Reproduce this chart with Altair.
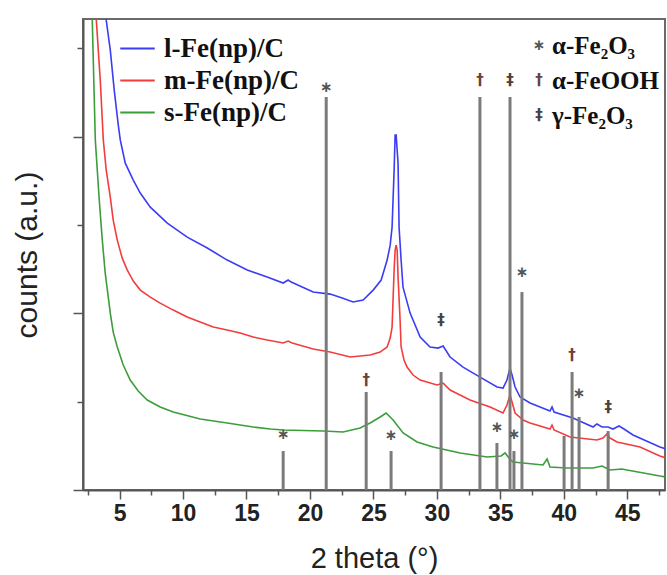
import altair as alt
import pandas as pd

# ---- XRD patterns (2 theta in degrees, counts in arbitrary units) ----
l_theta = [3.80, 3.95, 4.27, 4.58, 4.90, 5.06, 5.45, 6.08, 6.63, 7.42, 8.76, 10.33, 11.91, 13.48,
           15.06, 16.63, 17.89, 18.28, 18.52, 20.25, 21.59, 22.54, 23.40, 24.19, 24.98, 25.61,
           26.08, 26.32, 26.47, 26.63, 26.71, 26.79, 26.94, 27.02, 27.18, 27.33, 27.89, 28.68,
           29.46, 30.09, 30.49, 31.04, 32.06, 33.40, 34.74, 35.21, 35.52, 35.76, 35.92, 36.16,
           36.55, 37.34, 38.91, 39.07, 39.23, 40.72, 42.30, 42.61, 43.01, 43.48, 43.87, 44.35,
           44.74, 45.45, 47.57, 48.05]
l_counts = [5.543, 5.317, 4.977, 4.525, 4.129, 3.959, 3.699, 3.507, 3.360, 3.201, 3.020, 2.862,
            2.738, 2.602, 2.489, 2.410, 2.342, 2.376, 2.353, 2.240, 2.217, 2.172, 2.127, 2.149,
            2.262, 2.376, 2.602, 2.771, 2.975, 3.620, 4.016, 4.016, 3.699, 2.975, 2.602, 2.296,
            2.002, 1.731, 1.618, 1.606, 1.629, 1.505, 1.391, 1.278, 1.165, 1.154, 1.244, 1.380,
            1.301, 1.165, 1.052, 0.984, 0.894, 0.939, 0.882, 0.814, 0.713, 0.747, 0.713, 0.713,
            0.690, 0.724, 0.690, 0.622, 0.486, 0.464]

m_theta = [3.09, 3.17, 3.48, 3.72, 3.95, 4.27, 4.50, 4.82, 5.21, 5.61, 6.08, 6.63, 7.42, 8.20,
           9.23, 10.33, 11.35, 12.38, 13.48, 14.50, 15.53, 16.63, 17.89, 18.28, 18.60, 20.25,
           21.59, 23.17, 24.74, 25.53, 26.08, 26.32, 26.47, 26.63, 26.71, 26.79, 26.87, 26.94,
           27.10, 27.18, 27.41, 27.65, 28.12, 28.68, 30.01, 30.49, 31.04, 32.61, 34.19, 35.21,
           35.52, 35.76, 35.92, 36.16, 36.79, 37.34, 38.91, 39.07, 39.23, 40.49, 42.61, 43.08,
           43.40, 43.64, 44.19, 46.00, 47.57, 48.05]
m_counts = [5.543, 5.317, 4.638, 3.959, 3.620, 3.314, 3.054, 2.828, 2.624, 2.489, 2.364, 2.262,
            2.183, 2.115, 2.036, 1.957, 1.900, 1.844, 1.810, 1.776, 1.731, 1.697, 1.663, 1.686,
            1.663, 1.595, 1.561, 1.505, 1.527, 1.561, 1.618, 1.719, 1.844, 2.489, 2.715, 2.771,
            2.715, 2.410, 1.923, 1.618, 1.471, 1.391, 1.301, 1.244, 1.188, 1.210, 1.131, 1.018,
            0.939, 0.871, 0.962, 1.075, 0.995, 0.871, 0.792, 0.758, 0.690, 0.735, 0.679, 0.600,
            0.566, 0.588, 0.633, 0.588, 0.543, 0.486, 0.385, 0.362]

s_theta = [2.77, 2.85, 3.09, 3.40, 3.64, 3.87, 4.27, 4.50, 4.82, 5.29, 5.84, 6.47, 7.18, 8.20,
           9.23, 11.35, 13.48, 15.53, 16.87, 17.89, 21.04, 22.61, 23.95, 24.74, 25.53, 26.00,
           26.55, 27.34, 28.44, 29.70, 31.83, 33.95, 35.06, 35.37, 35.68, 36.00, 38.36, 38.68,
           38.91, 40.25, 42.30, 43.01, 43.64, 44.58, 44.98, 47.57, 48.05]
s_counts = [5.543, 5.317, 3.959, 3.281, 2.828, 2.455, 2.002, 1.787, 1.618, 1.414, 1.244, 1.120,
            1.018, 0.939, 0.882, 0.803, 0.758, 0.713, 0.690, 0.679, 0.667, 0.656, 0.701, 0.758,
            0.826, 0.871, 0.792, 0.645, 0.543, 0.486, 0.419, 0.373, 0.385, 0.419, 0.362, 0.317,
            0.283, 0.351, 0.260, 0.249, 0.249, 0.271, 0.226, 0.238, 0.226, 0.158, 0.147]

series_names = ["l-Fe(np)/C", "m-Fe(np)/C", "s-Fe(np)/C"]
series_colors = ["#3c3cf5", "#f23d3d", "#3b9e3b"]

# ---- reference stick pattern ----
ref_theta = [17.89, 21.28, 24.43, 26.39, 30.33, 33.39, 34.73, 35.76, 36.07, 36.70, 40.02, 40.65, 41.20, 43.49]
ref_height = [0.441, 4.446, 1.109, 0.441, 1.335, 4.446, 0.532, 4.446, 0.441, 2.240, 0.611, 1.335, 0.826, 0.667]
ref_mark = ["∗", "∗", "†", "∗", "‡", "†", "∗", "‡", "∗", "∗", "", "†", "∗", "‡"]
ref_mark_y = [0.633, 4.559, 1.244, 0.622, 1.923, 4.638, 0.713, 4.638, 0.633, 2.466, 0.0, 1.527, 1.097, 0.939]

phase_symbols = ["∗", "†", "‡"]
phase_names = ["α-Fe₂O₃", "α-FeOOH", "γ-Fe₂O₃"]
phase_colors = ["#555555", "#6a3f3f", "#4a4040"]

x_major = [5, 10, 15, 20, 25, 30, 35, 40, 45]
x_minor = [2.5, 7.5, 12.5, 17.5, 22.5, 27.5, 32.5, 37.5, 42.5, 47.5]
y_major = [0, 2, 4]
y_minor = [1, 3, 5]

# ---- tables ----
rows = []
for name, th, ct in zip(series_names, [l_theta, m_theta, s_theta], [l_counts, m_counts, s_counts]):
    for a, b in zip(th, ct):
        rows.append({"theta": a, "counts": b, "sample": name})
curves = pd.DataFrame(rows)

sticks = pd.DataFrame({"theta": ref_theta, "top": ref_height, "base": [0.0] * len(ref_theta)})
marks = pd.DataFrame({"theta": ref_theta, "y": ref_mark_y, "mark": ref_mark})
marks = marks[marks["mark"] != ""]

X_DOMAIN = [2.12, 47.97]
Y_DOMAIN = [0, 5.33]
x_scale = alt.Scale(domain=X_DOMAIN, nice=False, zero=False)
y_scale = alt.Scale(domain=Y_DOMAIN, nice=False, zero=False)

x_main = alt.X(
    "theta:Q",
    scale=x_scale,
    axis=alt.Axis(
        orient="bottom",
        title="2 theta (°)",
        values=x_major,
        tickSize=9,
        labelFontSize=23,
        labelFontWeight="bold",
        labelPadding=3,
        titleFontSize=29,
        titleFontWeight="normal",
        titlePadding=19,
        grid=False,
        labelFlush=False,
    ),
)
y_main = alt.Y(
    "counts:Q",
    scale=y_scale,
    axis=alt.Axis(
        orient="left",
        title="counts (a.u.)",
        values=y_major,
        labels=False,
        tickSize=10,
        titleFontSize=30,
        titleFontWeight="normal",
        titlePadding=30,
        grid=False,
    ),
)

lines = alt.Chart(curves).mark_line(strokeWidth=1.6, clip=True).encode(
    x=x_main,
    y=y_main,
    color=alt.Color(
        "sample:N",
        scale=alt.Scale(domain=series_names, range=series_colors),
        legend=alt.Legend(
            title=None,
            orient="none",
            legendX=36,
            legendY=11,
            symbolType="stroke",
            symbolSize=1190,
            symbolStrokeWidth=2,
            labelFont="Liberation Serif",
            labelFontWeight="bold",
            labelFontSize=27,
            labelColor="#111111",
            labelOffset=8,
            rowPadding=0,
            padding=0,
        ),
    ),
)

# minor ticks: a second, label-less axis on the same scales and sides
bars = alt.Chart(sticks).mark_rule(strokeWidth=3, color="#7b7b7b").encode(
    x=alt.X("theta:Q", scale=x_scale,
            axis=alt.Axis(orient="bottom", values=x_minor, tickSize=5, labels=False,
                          domain=False, title=None, grid=False)),
    y=alt.Y("top:Q", scale=y_scale,
            axis=alt.Axis(orient="left", values=y_minor, tickSize=6, labels=False,
                          domain=False, title=None, grid=False)),
    y2=alt.Y2("base:Q"),
)

symbols = alt.Chart(marks).mark_text(
    font="DejaVu Sans", fontSize=15, fontWeight="bold", baseline="middle", align="center"
).encode(
    x=alt.X("theta:Q", scale=x_scale, axis=None),
    y=alt.Y("y:Q", scale=y_scale, axis=None),
    text="mark:N",
    color=alt.Color("mark:N", scale=alt.Scale(domain=phase_symbols, range=phase_colors), legend=None),
)

layers = [lines, bars, symbols]

# phase key (top right)
key_baselines = [35, 70, 105]
for sym, name, col, yb in zip(phase_symbols, phase_names, phase_colors, key_baselines):
    df = pd.DataFrame({"sym": [sym], "name": [name]})
    layers.append(
        alt.Chart(df).mark_text(
            font="DejaVu Sans", fontSize=15, fontWeight="bold", align="center", baseline="middle", color=col
        ).encode(x=alt.value(456), y=alt.value(yb - 9), text="sym:N")
    )
    layers.append(
        alt.Chart(df).mark_text(
            font="Liberation Serif", fontSize=25, fontWeight="bold", align="left",
            baseline="alphabetic", color="#111111"
        ).encode(x=alt.value(469), y=alt.value(yb), text="name:N")
    )

chart = alt.layer(*layers).resolve_scale(color="independent").resolve_axis(
    x="independent", y="independent"
).properties(
    width=582,
    height=471,
    autosize=alt.AutoSizeParams(type="none"),
    padding={"left": 83, "top": 19, "right": 2, "bottom": 85},
).configure_view(
    stroke="#6a6a6a", strokeWidth=2
).configure_axis(
    domainColor="#555555",
    domainWidth=2,
    tickColor="#555555",
    tickWidth=1.5,
    labelColor="#222222",
    titleColor="#222222",
    labelFont="Liberation Sans",
    titleFont="Liberation Sans",
)

chart.save("out.html", embed_options={"renderer": "svg", "actions": False})
